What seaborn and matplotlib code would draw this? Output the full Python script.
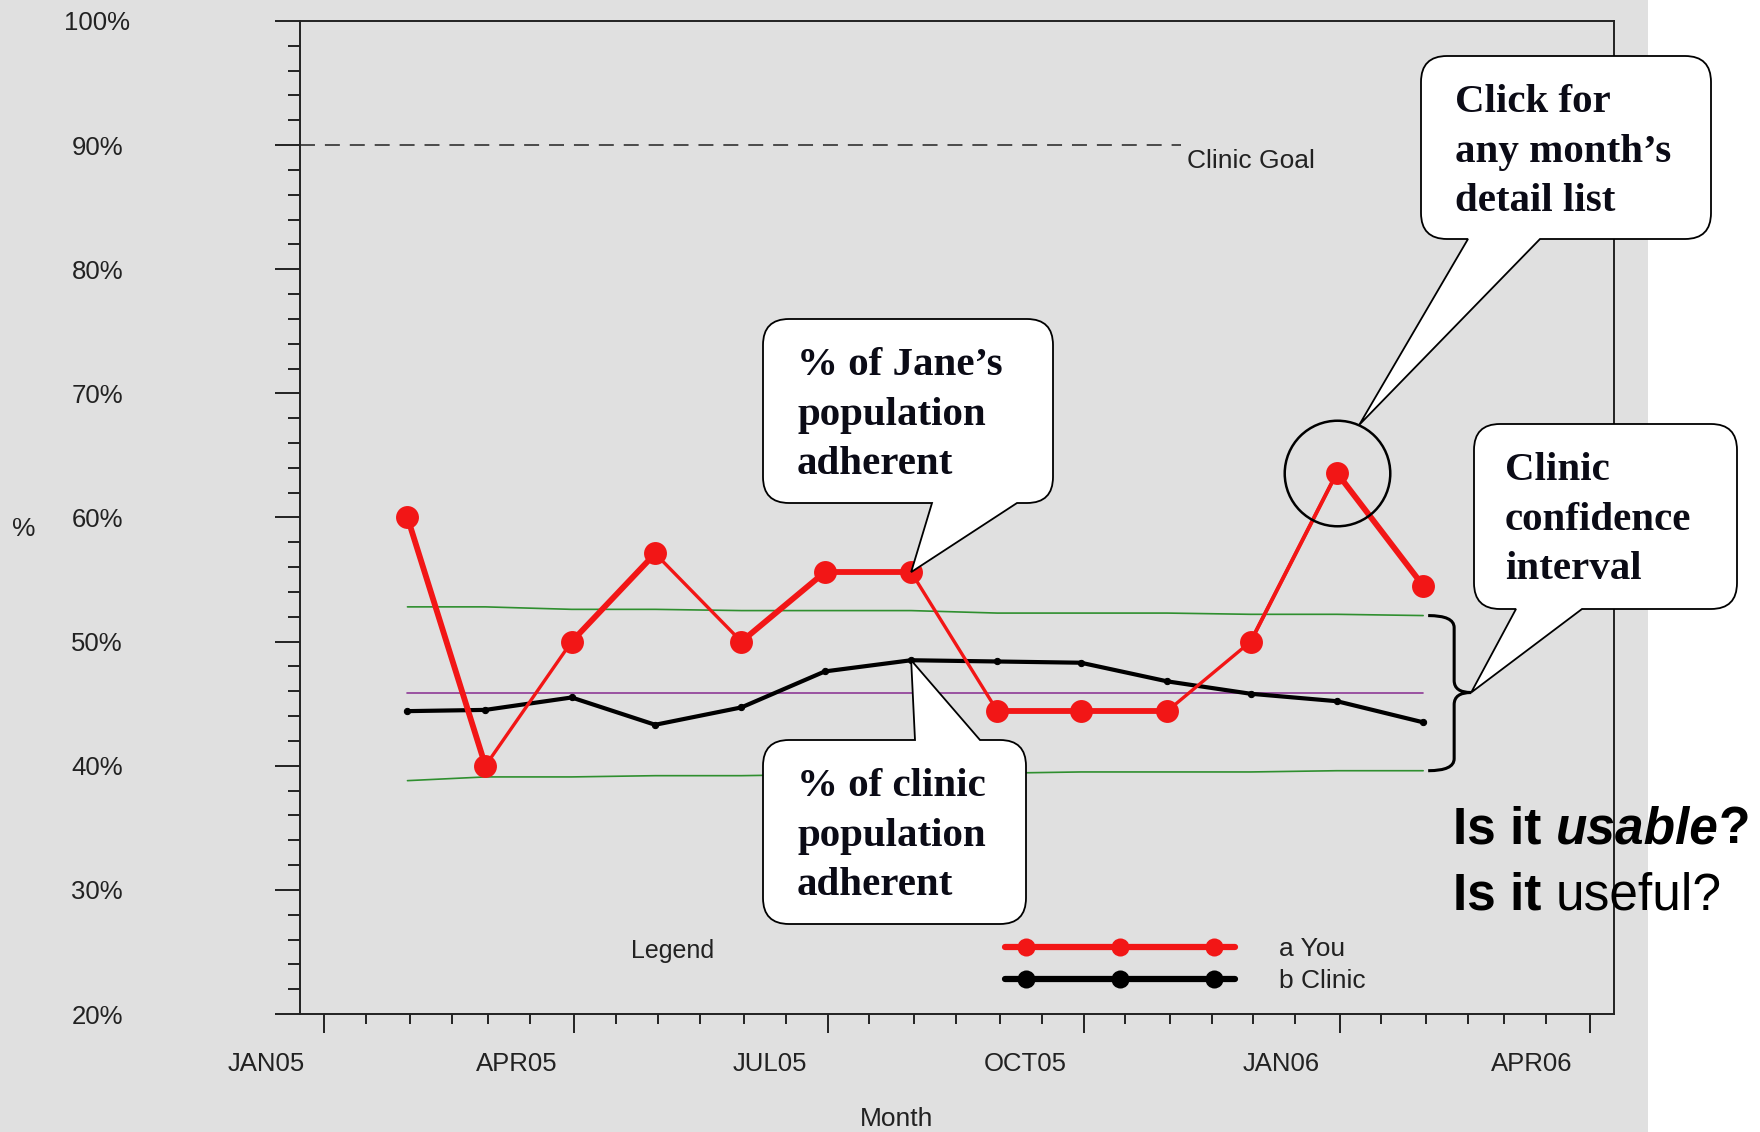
import numpy as np
import pandas as pd
import matplotlib
matplotlib.use("Agg")
import matplotlib.pyplot as plt
import matplotlib.dates as mdates
from matplotlib.path import Path
from matplotlib.patches import PathPatch, Rectangle
from matplotlib.transforms import IdentityTransform, ScaledTranslation
from matplotlib.ticker import MultipleLocator
from matplotlib.legend_handler import HandlerLine2DCompound
from matplotlib.lines import Line2D
import seaborn as sns

# ---------------------------------------------------------------- data
months = ["2005-01-31", "2005-02-28", "2005-03-31", "2005-04-30", "2005-05-31",
          "2005-06-30", "2005-07-31", "2005-08-31", "2005-09-30", "2005-10-31",
          "2005-11-30", "2005-12-31", "2006-01-31"]
you_pct = [60.0, 40.0, 50.0, 57.1, 50.0, 55.6, 55.6, 44.4, 44.4, 44.4, 50.0, 63.6, 54.5]
clinic_pct = [44.4, 44.5, 45.5, 43.3, 44.7, 47.6, 48.5, 48.4, 48.3, 46.8, 45.8, 45.2, 43.5]
ci_upper = [52.8, 52.8, 52.6, 52.6, 52.5, 52.5, 52.5, 52.3, 52.3, 52.3, 52.2, 52.2, 52.1]
ci_lower = [38.8, 39.1, 39.1, 39.2, 39.2, 39.3, 39.3, 39.4, 39.5, 39.5, 39.5, 39.6, 39.6]
clinic_mean = 45.9
goal_pct = 90
goal_span = ["2004-12-23 09:00", "2005-11-05 00:00"]
x_range = ["2004-12-23 09:00", "2006-04-09 14:00"]
x_ticks = ["2005-01-01", "2005-04-01", "2005-07-01", "2005-10-01", "2006-01-01", "2006-04-01"]
x_tick_labels = ["JAN05", "APR05", "JUL05", "OCT05", "JAN06", "APR06"]
y_ticks = [20, 30, 40, 50, 60, 70, 80, 90, 100]
y_tick_labels = ["20%", "30%", "40%", "50%", "60%", "70%", "80%", "90%", "100%"]
series_labels = ["a You", "b Clinic"]

# ---------------------------------------------------------------- style
W, H = 1760, 1132
BG = "#e0e0e0"
RED = "#f21616"
GREEN = "#2f8f2f"
PURPLE = "#8e3a96"
INK = "#222222"
you_seg_lw = [4.2, 2.2, 4.2, 2.2, 4.2, 4.2, 2.2, 4.2, 4.2, 2.2, 2.8, 4.2]

sns.set_theme(style="ticks", rc={"axes.facecolor": BG, "figure.facecolor": BG})
plt.rcParams["font.family"] = ["Liberation Sans", "DejaVu Sans"]

df = pd.DataFrame({
    "month": pd.to_datetime(months),
    "you": you_pct,
    "clinic": clinic_pct,
    "upper": ci_upper,
    "lower": ci_lower,
})
df["mean"] = clinic_mean

fig = plt.figure(figsize=(W / 100, H / 100), dpi=100)
fig.patch.set_facecolor(BG)
fig.add_artist(Rectangle((1648 / W, 0), 1 - 1648 / W, 1, transform=fig.transFigure,
                         facecolor="white", edgecolor="none", zorder=-5))
ax = fig.add_axes([300 / W, 1 - 1014 / H, (1614 - 300) / W, (1014 - 21) / H])
ax.set_facecolor(BG)

# confidence band edges and clinic mean
sns.lineplot(data=df, x="month", y="upper", color=GREEN, lw=1.2, ax=ax, zorder=2)
sns.lineplot(data=df, x="month", y="lower", color=GREEN, lw=1.2, ax=ax, zorder=2)
sns.lineplot(data=df, x="month", y="mean", color=PURPLE, lw=1.2, ax=ax, zorder=2)

# clinic series
sns.lineplot(data=df, x="month", y="clinic", color="black", lw=3.0, marker="o",
             markersize=4.5, markeredgecolor="black", ax=ax, zorder=3)

# provider series: thin base line with markers, thicker segments on top
sns.lineplot(data=df, x="month", y="you", color=RED, lw=2.4, marker="o",
             markersize=16.5, markeredgewidth=0, ax=ax, zorder=4)
for i, w in enumerate(you_seg_lw):
    if w > 2.4:
        ax.plot(df["month"].iloc[i:i + 2], df["you"].iloc[i:i + 2], color=RED,
                lw=w, solid_capstyle="round", zorder=4)

# goal line
goal_x = pd.to_datetime(goal_span)
ax.plot(goal_x, [goal_pct, goal_pct], color=INK, lw=1.1, dashes=(9.8, 6.5), zorder=2)
ax.annotate("Clinic Goal", xy=(goal_x[1], goal_pct),
            xytext=(6, -16), textcoords="offset pixels", va="center", ha="left",
            fontsize=19, color=INK)

# axes limits and ticks
ax.set_xlim(pd.to_datetime(x_range))
ax.set_ylim(y_ticks[0], y_ticks[-1])
ax.set_xticks(pd.to_datetime(x_ticks))
ax.set_xticklabels(x_tick_labels)
ax.xaxis.set_minor_locator(mdates.MonthLocator(bymonthday=[1, 16]))
ax.set_yticks(y_ticks)
ax.set_yticklabels(y_tick_labels)
ax.yaxis.set_minor_locator(MultipleLocator(2))

for s in ax.spines.values():
    s.set_visible(True)
    s.set_linewidth(1.4)
    s.set_color(INK)
ax.tick_params(axis="y", which="major", length=18, width=1.4, color=INK,
               pad=128, labelsize=18.5, labelcolor=INK)
ax.tick_params(axis="y", which="minor", length=8.6, width=1.4, color=INK)
ax.tick_params(axis="x", which="major", length=13.7, width=1.4, color=INK,
               pad=13.5, labelsize=18.5, labelcolor=INK)
ax.tick_params(axis="x", which="minor", length=7.2, width=1.4, color=INK)
for lab in ax.get_yticklabels():
    lab.set_horizontalalignment("center")
shift = ScaledTranslation(-0.58, 0, fig.dpi_scale_trans)
for lab in ax.get_xticklabels():
    lab.set_transform(lab.get_transform() + shift)

ax.set_xlabel("Month", fontsize=19, color=INK)
ax.xaxis.set_label_coords((897 - 300) / 1314, (1014 - 1107) / 993)
ax.set_ylabel("%", fontsize=19, color=INK, rotation=0, ha="center", va="center")
ax.yaxis.set_label_coords((24 - 300) / 1314, (1014 - 529) / 993)


# legend with the line running past the three dots
class DotsHandler(HandlerLine2DCompound):
    def get_xdata(self, legend, xdescent, ydescent, width, height, fontsize):
        xdata = np.linspace(-xdescent, -xdescent + width, 3)
        inset = 0.09 * width
        xm = np.linspace(-xdescent + inset, -xdescent + width - inset, 3)
        return xdata, xm


handles = [Line2D([], [], color=RED, lw=4.5, marker="o", markersize=13, markeredgewidth=0),
           Line2D([], [], color="black", lw=4.5, marker="o", markersize=13, markeredgewidth=0)]
leg = ax.legend(handles, series_labels, loc="upper left",
                bbox_to_anchor=(1005 / W, 1 - 937 / H), bbox_transform=fig.transFigure,
                frameon=False, borderpad=0, borderaxespad=0, fontsize=19,
                handlelength=8.7, handletextpad=1.7, labelspacing=0.3,
                handler_map={Line2D: DotsHandler()})
for t in leg.get_texts():
    t.set_color(INK)
fig.text(631 / W, 1 - 951 / H, "Legend", fontsize=18, color=INK, va="center", ha="left")

# highlight ring around the peak month
ax.plot(df["month"].iloc[11], df["you"].iloc[11], marker="o", markersize=76,
        markerfacecolor="none", markeredgecolor="black", markeredgewidth=1.8,
        zorder=6, clip_on=False)


def px(date, val):
    X, Y = ax.transData.transform((mdates.date2num(pd.Timestamp(date)), val))
    return X, H - Y


def bubble(x0, y0, x1, y1, r, side, a, b, tip):
    tx, ty = tip
    verts, codes = [], []

    def ln(p):
        verts.append(p)
        codes.append(Path.LINETO)

    def qc(c, p):
        verts.extend([c, p])
        codes.extend([Path.CURVE3, Path.CURVE3])

    verts.append((x0 + r, y0))
    codes.append(Path.MOVETO)
    if side == "top":
        ln((a, y0)); ln((tx, ty)); ln((b, y0))
    ln((x1 - r, y0))
    qc((x1, y0), (x1, y0 + r))
    ln((x1, y1 - r))
    qc((x1, y1), (x1 - r, y1))
    if side == "bottom":
        ln((b, y1)); ln((tx, ty)); ln((a, y1))
    ln((x0 + r, y1))
    qc((x0, y1), (x0, y1 - r))
    ln((x0, y0 + r))
    qc((x0, y0), (x0 + r, y0))
    verts.append((x0 + r, y0))
    codes.append(Path.CLOSEPOLY)
    v = np.array(verts, float)
    v[:, 1] = H - v[:, 1]
    patch = PathPatch(Path(v, codes), facecolor="white", edgecolor="black",
                      lw=1.3, transform=IdentityTransform(), zorder=10)
    fig.add_artist(patch)


def bubble_text(x, y_last_base, s):
    # y_last_base is the baseline of the final line
    fig.text(x / W, 1 - y_last_base / H, s, fontsize=29.5, fontweight="bold",
             family=["Liberation Serif", "DejaVu Serif"], color="#0b0b16",
             ha="left", va="baseline", linespacing=1.44, zorder=11)


jane_tip = px(months[6], you_pct[6])
clinic_tip = px(months[6], clinic_pct[6])
cx, cy = px(months[11], you_pct[11])
ring_r = 53
click_tip = (cx + ring_r * np.sin(np.radians(25)), cy - ring_r * np.cos(np.radians(25)))

# brace marking the clinic confidence interval
bx0, y_top = px(months[-1], ci_upper[-1])
_, y_bot = px(months[-1], ci_lower[-1])
_, y_mid = px(months[-1], clinic_mean)
bx0 += 5
bxm, bxt = bx0 + 26, bx0 + 43
bv = [(bx0, y_top), (bxm, y_top), (bxm, y_top + 12), (bxm, y_mid - 12), (bxm, y_mid), (bxt, y_mid),
      (bxt, y_mid), (bxm, y_mid), (bxm, y_mid + 12), (bxm, y_bot - 12), (bxm, y_bot), (bx0, y_bot)]
bc = [Path.MOVETO, Path.CURVE3, Path.CURVE3, Path.LINETO, Path.CURVE3, Path.CURVE3,
      Path.MOVETO, Path.CURVE3, Path.CURVE3, Path.LINETO, Path.CURVE3, Path.CURVE3]
bv = np.array(bv, float)
bv[:, 1] = H - bv[:, 1]
fig.add_artist(PathPatch(Path(bv, bc), fill=False, edgecolor="black", lw=2.2,
                         transform=IdentityTransform(), zorder=9))
ci_tip = (bxt, y_mid)

bubble(763, 319, 1053, 503, 26, "bottom", 932, 1017, jane_tip)
bubble(763, 740, 1026, 924, 26, "top", 915, 980, clinic_tip)
bubble(1421, 56, 1711, 239, 26, "bottom", 1468, 1540, click_tip)
bubble(1474, 424, 1737, 609, 26, "bottom", 1516, 1582, ci_tip)

bubble_text(797, 474, "% of Jane\u2019s\npopulation\nadherent")
bubble_text(797, 895, "% of clinic\npopulation\nadherent")
bubble_text(1455, 211, "Click for\nany month\u2019s\ndetail list")
bubble_text(1505, 579, "Clinic\nconfidence\ninterval")

# closing questions
space_px = 0.278 * 37 * 100 / 72
q1 = fig.text(1453 / W, 1 - 843 / H, "Is it", fontsize=37, fontweight="bold",
              color="black", ha="left", va="baseline", zorder=12)
q2 = ax.annotate("usable", xy=(1, 0), xycoords=q1, xytext=(space_px, 0),
                 textcoords="offset pixels", fontsize=37, fontweight="bold",
                 fontstyle="italic", color="black", ha="left", va="bottom", zorder=12)
ax.annotate("?", xy=(1, 0), xycoords=q2, xytext=(0, 0), textcoords="offset pixels",
            fontsize=37, fontweight="bold", color="black", ha="left", va="bottom", zorder=12)
q4 = fig.text(1453 / W, 1 - 909 / H, "Is it", fontsize=37, fontweight="bold",
              color="black", ha="left", va="baseline", zorder=12)
ax.annotate("useful?", xy=(1, 0), xycoords=q4, xytext=(space_px, 0),
            textcoords="offset pixels", fontsize=37, color="black",
            ha="left", va="bottom", zorder=12)

fig.savefig("out.png", dpi=100, facecolor=BG)
